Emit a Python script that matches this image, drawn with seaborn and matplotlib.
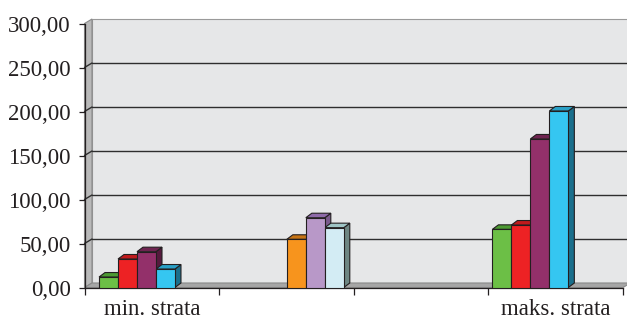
import numpy as np
import pandas as pd
import matplotlib
matplotlib.use("Agg")
import matplotlib.pyplot as plt
import seaborn as sns
from matplotlib.patches import Polygon
from matplotlib.ticker import FixedLocator, FuncFormatter

# ---------------- data ----------------
tick_labels = ["min. strata", "", "", "maks. strata"]

series_min = ["S1", "S2", "S3", "S4"]
values_min = [11.9, 32.4, 40.7, 21.0]

series_mid = ["S5", "S6", "S7"]
values_mid = [54.8, 79.3, 68.0]

series_max = ["S1", "S2", "S3", "S4"]
values_max = [66.1, 71.0, 168.8, 200.6]

y_ticks = [0, 50, 100, 150, 200, 250, 300]

# ---------------- styles ----------------
front_colors = {"S1": "#6CBF46", "S2": "#ED2224", "S3": "#93306A", "S4": "#35C6F1",
                "S5": "#F7941D", "S6": "#B898C8", "S7": "#D3ECF4"}
side_colors = {"S1": "#3E7D28", "S2": "#9E1517", "S3": "#561A3D", "S4": "#1A6F8C",
               "S5": "#A8620F", "S6": "#7A5A8C", "S7": "#6E8683"}
top_colors = {"S1": "#4C9A32", "S2": "#C01A1C", "S3": "#6E2450", "S4": "#2AA0C6",
              "S5": "#C77414", "S6": "#8E6AA8", "S7": "#9FC5C5"}
EDGE = "#231F20"
FONT_SIZE = 16.5

# layout (category slot index and offset of first bar inside the slot)
group_slot = [0, 1, 3]
group_offset = [0.108, 0.503, 0.03]
BAR_W = 0.141

FIG_W, FIG_H = 627, 320
L_PX, R_PX, TOP_PX, BOT_PX = 84.5, 623.0, 23.5, 287.5
WALL_DX, WALL_DY = 7.5, 4.5   # pixels of depth of the walls
BAR_DX, BAR_DY = 6.0, 4.5     # pixels of depth of the bars

rows = []
for slot, off, names, vals in zip(group_slot, group_offset,
                                  [series_min, series_mid, series_max],
                                  [values_min, values_mid, values_max]):
    for k, (n, v) in enumerate(zip(names, vals)):
        rows.append({"pos": slot + off + (k + 0.5) * BAR_W, "value": v, "series": n})
df = pd.DataFrame(rows)

sns.set_style("white")
plt.rcParams["font.family"] = ["Liberation Serif", "DejaVu Serif"]
plt.rcParams["font.size"] = FONT_SIZE

fig = plt.figure(figsize=(FIG_W / 100, FIG_H / 100), dpi=100)
ax = fig.add_axes([L_PX / FIG_W, 1 - BOT_PX / FIG_H,
                   (R_PX - L_PX) / FIG_W, (BOT_PX - TOP_PX) / FIG_H])

sns.barplot(data=df, x="pos", y="value", hue="series", palette=front_colors,
            native_scale=True, dodge=False, width=1.0, saturation=1,
            errorbar=None, legend=False, edgecolor=EDGE, linewidth=0.8, ax=ax)
for p in ax.patches:
    p.set_zorder(3)

XMAX, YMAX = 4, 300
ax.set_xlim(0, XMAX)
ax.set_ylim(0, YMAX)

# pixel -> data conversion for depth
sx = XMAX / (R_PX - L_PX)
sy = YMAX / (BOT_PX - TOP_PX)
wdx, wdy = WALL_DX * sx, WALL_DY * sy
bdx, bdy = BAR_DX * sx, BAR_DY * sy

ax.patch.set_visible(False)

# back wall
ax.add_patch(Polygon([(wdx, wdy), (XMAX + wdx, wdy), (XMAX + wdx, YMAX + wdy), (wdx, YMAX + wdy)],
                     closed=True, facecolor="#E6E7E8", edgecolor="#9A9A9A", lw=0.8,
                     zorder=0.1, clip_on=False))
# left wall
ax.add_patch(Polygon([(0, 0), (wdx, wdy), (wdx, YMAX + wdy), (0, YMAX)],
                     closed=True, facecolor="#B9B9B9", edgecolor="#8A8A8A", lw=0.8,
                     zorder=0.2, clip_on=False))
# floor
ax.add_patch(Polygon([(0, 0), (XMAX, 0), (XMAX + wdx, wdy), (wdx, wdy)],
                     closed=True, facecolor="#A6A6A6", edgecolor="#8A8A8A", lw=0.8,
                     zorder=0.2, clip_on=False))
# gridlines on back wall and left wall
for v in y_ticks[1:-1]:
    ax.plot([wdx, XMAX + wdx], [v + wdy, v + wdy], color="#2E2E2E", lw=1.0,
            zorder=0.3, clip_on=False)
    ax.plot([0, wdx], [v, v + wdy], color="#2E2E2E", lw=1.0, zorder=0.3, clip_on=False)

# 3D top and side faces of bars
for _, r in df.iterrows():
    x0 = r["pos"] - BAR_W / 2
    x1 = r["pos"] + BAR_W / 2
    h = r["value"]
    s = r["series"]
    ax.add_patch(Polygon([(x1, 0), (x1 + bdx, bdy), (x1 + bdx, h + bdy), (x1, h)],
                         closed=True, facecolor=side_colors[s], edgecolor=EDGE, lw=0.8,
                         zorder=2, clip_on=False))
    ax.add_patch(Polygon([(x0, h), (x1, h), (x1 + bdx, h + bdy), (x0 + bdx, h + bdy)],
                         closed=True, facecolor=top_colors[s], edgecolor=EDGE, lw=0.8,
                         zorder=2, clip_on=False))

# axes
for side in ["top", "right"]:
    ax.spines[side].set_visible(False)
for side in ["left", "bottom"]:
    ax.spines[side].set_color("#231F20")
    ax.spines[side].set_linewidth(0.9)
    ax.spines[side].set_zorder(2.5)

ax.yaxis.set_major_locator(FixedLocator(y_ticks))
ax.yaxis.set_major_formatter(FuncFormatter(lambda v, p: f"{v:.2f}".replace(".", ",")))
ax.tick_params(axis="y", direction="out", length=4, width=0.9, color="#231F20",
               pad=6, labelsize=FONT_SIZE, labelcolor="#231F20", left=True)

ax.xaxis.set_major_locator(FixedLocator(range(XMAX + 1)))
ax.xaxis.set_major_formatter(FuncFormatter(lambda v, p: ""))
ax.xaxis.set_minor_locator(FixedLocator([i + 0.5 for i in range(XMAX)]))
ax.set_xticklabels(tick_labels, minor=True)
ax.tick_params(axis="x", which="major", direction="out", length=5, width=0.9,
               color="#231F20", bottom=True)
ax.tick_params(axis="x", which="minor", length=0, pad=8, labelsize=FONT_SIZE,
               labelcolor="#231F20")
ax.set_xlabel("")
ax.set_ylabel("")

fig.savefig("out.png", dpi=100)
